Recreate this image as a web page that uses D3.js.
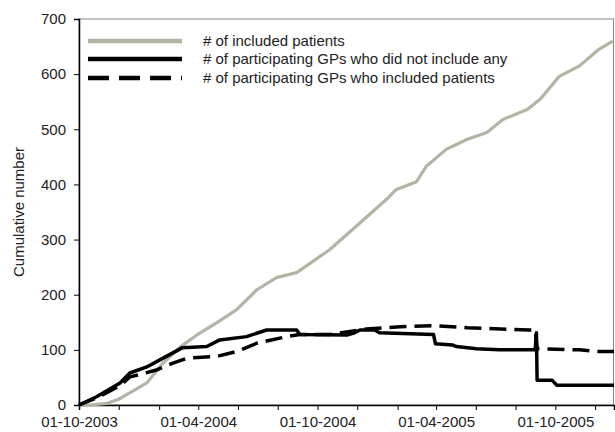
<!DOCTYPE html>
<html>
<head>
<meta charset="utf-8">
<script src="https://cdn.jsdelivr.net/npm/d3@7"></script>
<style>
  body { margin: 0; background: #fff; }
  svg { font-family: "Liberation Sans", Arial, sans-serif; }
</style>
</head>
<body>
<div id="chart"></div>
<script>
// cumulative counts
const patientDates = ["2003-10-01","2003-10-18","2003-11-13","2003-11-30","2003-12-18","2004-01-13","2004-02-07","2004-03-04","2004-03-30","2004-04-29","2004-05-30","2004-06-30","2004-07-30","2004-08-30","2004-10-20","2004-12-05","2005-01-15","2005-01-30","2005-03-02","2005-03-17","2005-04-17","2005-05-19","2005-06-18","2005-07-13","2005-08-19","2005-09-08","2005-10-07","2005-11-07","2005-12-07","2005-12-28"];
const patientValues = [0,0,3,10,22,40,76,105,127,149,173,209,231,240,282,330,373,391,405,433,464,482,494,518,536,555,596,615,645,660];

const noneDates = ["2003-10-01","2003-10-28","2003-12-03","2003-12-18","2004-01-13","2004-02-07","2004-03-08","2004-04-14","2004-05-04","2004-06-14","2004-07-15","2004-08-30","2004-09-04","2004-11-15","2004-11-27","2004-12-05","2004-12-28","2005-01-04","2005-03-28","2005-03-31","2005-04-26","2005-05-02","2005-06-02","2005-07-07","2005-08-31","2005-09-02","2005-09-03","2005-09-26","2005-10-03","2005-12-30"];
const noneValues = [0,15,40,58,69,85,104,106,118,124,136,136,128,127,131,136,136,131,128,111,109,106,102,100,100,131,45,45,36,36];

const inclDates = ["2003-10-01","2003-10-28","2003-12-03","2003-12-18","2004-01-02","2004-01-29","2004-02-22","2004-03-15","2004-04-29","2004-05-30","2004-06-30","2004-08-19","2004-09-04","2004-10-20","2004-12-15","2005-02-05","2005-03-28","2005-05-19","2005-08-22","2005-08-31","2005-09-03","2005-11-07","2005-12-07","2005-12-30"];
const inclValues = [0,13,35,51,55,64,76,85,88,97,112,125,128,128,138,142,144,140,136,136,102,100,97,97];

const tickDates = ["2003-10-01","2003-12-01","2004-02-01","2004-04-01","2004-06-01","2004-08-01","2004-10-01","2004-12-01","2005-02-01","2005-04-01","2005-06-01","2005-08-01","2005-10-01","2005-12-01"];
const labelDates = ["2003-10-01","2004-04-01","2004-10-01","2005-04-01","2005-10-01"];
const yTicks = [0,100,200,300,400,500,600,700];

const legendLabels = ["# of included patients","# of participating GPs who did not include any","# of participating GPs who included patients"];

const width = 615, height = 432;
const margin = { top: 19, right: 1, bottom: 27, left: 79 };
const parse = d3.timeParse("%Y-%m-%d");
const fmt = d3.timeFormat("%d-%m-%Y");

const svg = d3.select("#chart").append("svg")
  .attr("width", width).attr("height", height);

const x = d3.scaleTime()
  .domain([parse("2003-10-01"), parse("2005-12-30")])
  .range([margin.left, width - margin.right]);
const y = d3.scaleLinear()
  .domain([0, 700])
  .range([height - margin.bottom, margin.top]);

// plot frame
svg.append("rect")
  .attr("x", margin.left).attr("y", margin.top)
  .attr("width", width - margin.right - margin.left - 0.5)
  .attr("height", height - margin.bottom - margin.top)
  .attr("fill", "none").attr("stroke", "#888").attr("stroke-width", 1);

const labelSet = new Set(labelDates);
const xAxis = svg.append("g")
  .attr("transform", `translate(0,${height - margin.bottom})`)
  .call(d3.axisBottom(x)
    .tickValues(tickDates.map(parse))
    .tickSize(5).tickPadding(6)
    .tickFormat((d) => labelSet.has(d3.timeFormat("%Y-%m-%d")(d)) ? fmt(d) : ""));
xAxis.selectAll("text").attr("font-size", 15).attr("fill", "#222").attr("font-family", null);
xAxis.select(".domain").attr("stroke", "#000").attr("stroke-width", 1.5);

const yAxis = svg.append("g")
  .attr("transform", `translate(${margin.left},0)`)
  .call(d3.axisLeft(y).tickValues(yTicks).tickSize(5).tickPadding(8));
yAxis.selectAll("text").attr("font-size", 15).attr("fill", "#222").attr("font-family", null);
yAxis.select(".domain").attr("stroke", "#000").attr("stroke-width", 1.5);

svg.append("text")
  .attr("transform", `translate(19,${(margin.top + height - margin.bottom) / 2}) rotate(-90)`)
  .attr("text-anchor", "middle")
  .attr("dy", "0.35em")
  .attr("font-size", 15)
  .attr("fill", "#222")
  .text("Cumulative number");

const line = d3.line()
  .x((d) => x(d[0]))
  .y((d) => y(d[1]));

const series = [
  { dates: patientDates, values: patientValues, color: "#b3b3a6", width: 3.2, dash: null },
  { dates: inclDates, values: inclValues, color: "#000", width: 3.5, dash: "17,8" },
  { dates: noneDates, values: noneValues, color: "#000", width: 3.5, dash: null },
];

series.forEach((s) => {
  svg.append("path")
    .datum(s.dates.map((d, i) => [parse(d), s.values[i]]))
    .attr("fill", "none")
    .attr("stroke", s.color)
    .attr("stroke-width", s.width)
    .attr("stroke-linejoin", "round")
    .attr("stroke-dasharray", s.dash)
    .attr("d", line);
});

// legend
const legendStyle = [
  { color: "#b3b3a6", dash: null },
  { color: "#000", dash: null },
  { color: "#000", dash: "21,10" },
];
const legendY = [41, 59, 78];
const legend = svg.append("g");
legendLabels.forEach((label, i) => {
  legend.append("line")
    .attr("x1", 88).attr("x2", 182)
    .attr("y1", legendY[i]).attr("y2", legendY[i])
    .attr("stroke", legendStyle[i].color)
    .attr("stroke-width", 4.5)
    .attr("stroke-dasharray", legendStyle[i].dash);
  legend.append("text")
    .attr("x", 203).attr("y", legendY[i])
    .attr("dy", "0.35em")
    .attr("font-size", 15)
    .attr("fill", "#222")
    .text(label);
});
</script>
</body>
</html>
